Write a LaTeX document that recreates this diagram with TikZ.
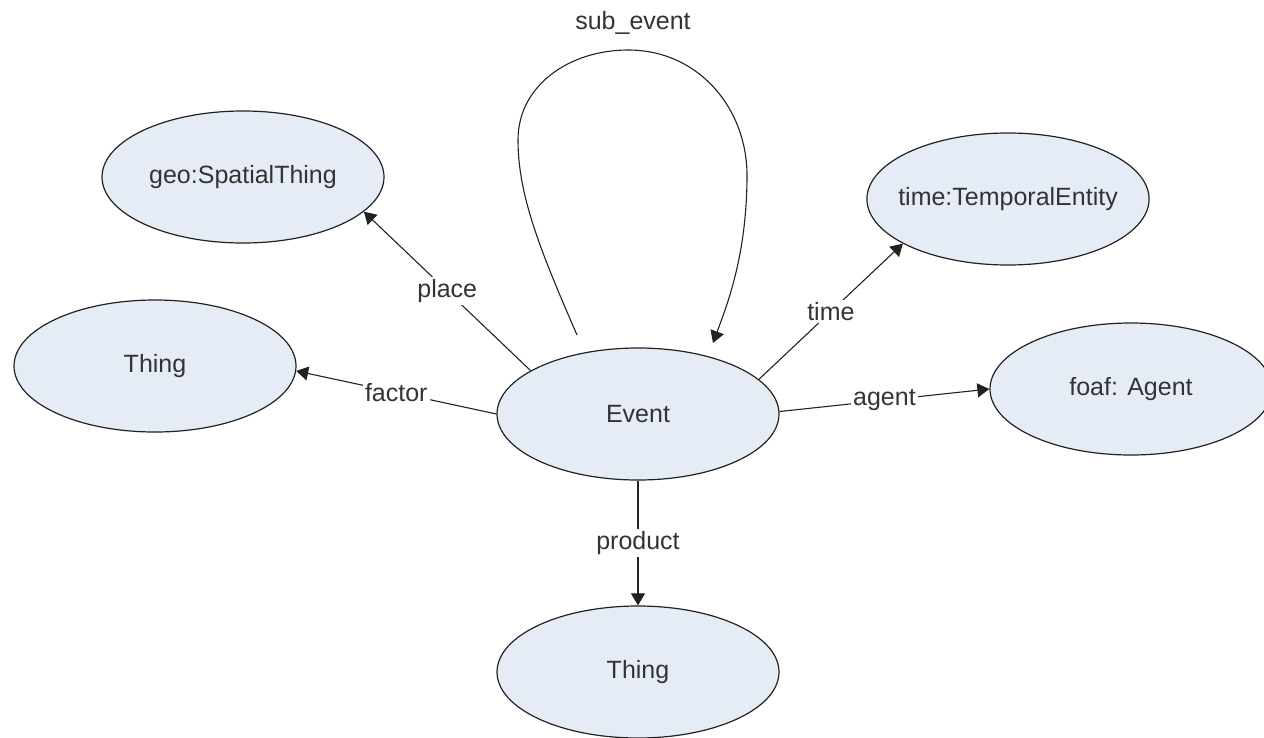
\documentclass[tikz,border=0pt]{standalone}
\usepackage{fontspec}
\setmainfont{Liberation Sans}
\usetikzlibrary{arrows.meta,shapes.geometric}
\definecolor{cfill}{HTML}{E6ECF6}
\definecolor{ctext}{HTML}{333333}
\definecolor{cline}{HTML}{222222}
\begin{document}
\begin{tikzpicture}[x=1pt,y=-1pt,
  cls/.style={ellipse, draw=cline, line width=1.2pt, fill=cfill, minimum width=282pt, minimum height=132pt, inner xsep=-10pt, inner ysep=0pt, text=ctext, font=\fontsize{25}{29}\selectfont},
  rel/.style={draw=cline, line width=1.1pt, -{Triangle[length=12pt,width=14pt]}},
  lbl/.style={fill=white, inner sep=2pt, text=ctext, font=\fontsize{25}{29}\selectfont}]
\useasboundingbox (0,0) rectangle (1264,737);
\node[cls] (ev) at (638,414) {Event};
\node[cls] (geo) at (243,177) {geo:SpatialThing};
\node[cls] (thing1) at (155,366) {Thing};
\node[cls] (tim) at (1008,199) {time:TemporalEntity};
\node[cls] (foaf) at (1131,389) {foaf: Agent};
\node[cls] (thing2) at (638,672) {Thing};
\draw[rel] (ev.158.75) -- node[lbl] {place} (geo.-16.8);
\draw[rel] (ev.180) -- node[lbl] {factor} (thing1.-2);
\draw[rel] (ev.16.4) -- node[lbl] {time} (tim.-157.5);
\draw[rel] (ev.1) -- node[lbl] {agent} (foaf.180);
\draw[rel] (ev.-90) -- node[lbl] {product} (thing2.90);
\coordinate (ls) at (577,335);
\coordinate (le) at (713,343);
\draw[rel] (ls) .. controls (540,250) and (518,195) .. (518,140)
  .. controls (518,85) and (570,50) .. (628,50)
  .. controls (700,50) and (747,110) .. (747,175)
  .. controls (747,255) and (727,305) .. (le);
\node[lbl, fill=none] (sub) at (633,23) {sub\_event};
\end{tikzpicture}
\end{document}
